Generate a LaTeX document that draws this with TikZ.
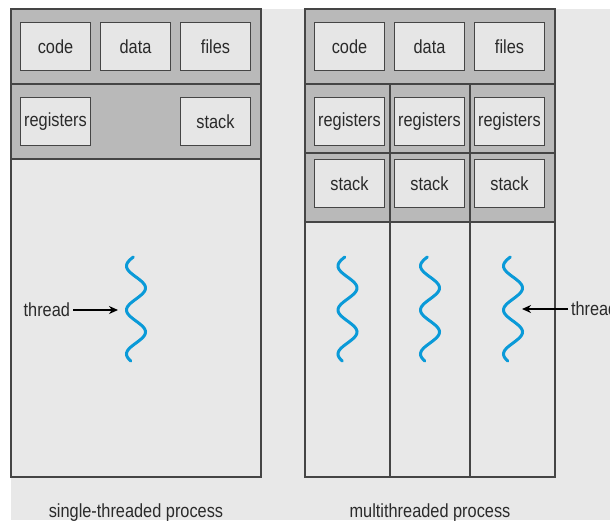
\documentclass[tikz,border=0pt]{standalone}
\usepackage{fontspec}
\setmainfont{Liberation Sans}[FakeStretch=0.86]
\usetikzlibrary{arrows.meta}
\definecolor{bgc}{HTML}{E8E8E8}
\definecolor{bandc}{HTML}{B9B9B9}
\definecolor{cellc}{HTML}{E6E6E6}
\definecolor{linec}{HTML}{454545}
\definecolor{txtc}{HTML}{2A2A2A}
\definecolor{wavec}{HTML}{0A9AD8}
\tikzset{
  txt/.style={font=\fontsize{19pt}{22pt}\selectfont, text=txtc, inner sep=0pt},
  cell/.style={txt, draw=linec, fill=cellc, line width=1.4pt, minimum width=70pt, minimum height=48pt},
  frame/.style={draw=linec, line width=1.3pt},
  wave/.style={draw=wavec, line width=3pt, line cap=round},
  arr/.style={-{Stealth[length=9pt,width=8pt]}, line width=1.6pt, black},
}
\begin{document}
\begin{tikzpicture}[x=1pt,y=-1pt]
\useasboundingbox (0,0) rectangle (610,520);
\clip (0,0) rectangle (610,520);
\fill[white] (0,0) rectangle (610,520);
\fill[bgc] (11,9) rectangle (610,520);

% ---------- single-threaded ----------
\fill[bandc] (11,9) rectangle (261,159);
\fill[bgc] (11,159) rectangle (261,477);
\draw[frame] (11,9) rectangle (261,477);
\draw[frame] (11,84) -- (261,84);
\draw[frame] (11,159) -- (261,159);

\node[cell] (code1) at (55.5,46.5) {code};
\node[cell] (data1) at (135.5,46.5) {data};
\node[cell] (files1) at (215.5,46.5) {files};
\node[cell] (reg1) at (55.5,121.5) {registers};
\node[cell] (stack1) at (215.5,121.5) {stack};

\draw[wave] plot[domain=-9:95, samples=90, smooth] ({136 - 9.5*cos(8.1818*\x)}, {266+\x});
\coordinate (tip1) at (118,310);
\node[txt, anchor=east, outer sep=3pt] (thr1) at (73,310) {thread};
\draw[arr] (thr1.east) -- (tip1);

\node[txt, anchor=base] (lab1) at (136,517) {single-threaded process};

% ---------- multithreaded ----------
\fill[bandc] (305,9) rectangle (555,222);
\fill[bgc] (305,222) rectangle (555,477);
\draw[frame] (305,9) rectangle (555,477);
\draw[frame] (305,84) -- (555,84);
\draw[frame] (305,153) -- (555,153);
\draw[frame] (305,222) -- (555,222);
\draw[frame] (390,84) -- (390,477);
\draw[frame] (470,84) -- (470,477);

\node[cell] (code2) at (349.5,46.5) {code};
\node[cell] (data2) at (429.5,46.5) {data};
\node[cell] (files2) at (509.5,46.5) {files};
\node[cell] (reg2a) at (349.5,121.5) {registers};
\node[cell] (reg2b) at (429.5,121.5) {registers};
\node[cell] (reg2c) at (509.5,121.5) {registers};
\node[cell] (stk2a) at (349.5,183.5) {stack};
\node[cell] (stk2b) at (429.5,183.5) {stack};
\node[cell] (stk2c) at (509.5,183.5) {stack};

\draw[wave] plot[domain=-9:95, samples=90, smooth] ({347.5 - 9.5*cos(8.1818*\x)}, {266+\x});
\draw[wave] plot[domain=-9:95, samples=90, smooth] ({430 - 9.5*cos(8.1818*\x)}, {266+\x});
\draw[wave] plot[domain=-9:95, samples=90, smooth] ({513 - 9.5*cos(8.1818*\x)}, {266+\x});
\coordinate (tip2) at (522,309);
\node[txt, anchor=west, outer sep=3pt] (thr2) at (568,309) {thread};
\draw[arr] (thr2.west) -- (tip2);

\node[txt, anchor=base] (lab2) at (430,517) {multithreaded process};
\end{tikzpicture}
\end{document}
